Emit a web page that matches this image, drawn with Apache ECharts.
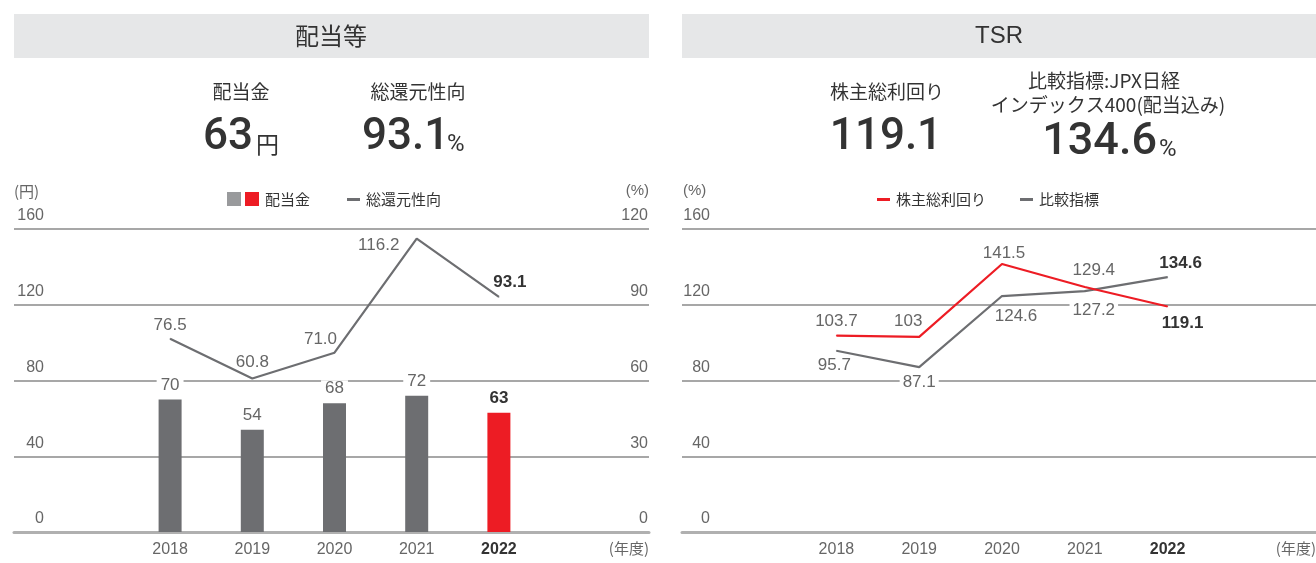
<!doctype html>
<html>
<head>
  <meta charset="utf-8">
  <title>配当等 / TSR</title>
  <script src="https://cdn.jsdelivr.net/npm/echarts@6/dist/echarts.min.js"></script>
  <style>
    html, body { margin: 0; padding: 0; background: #fff; }
    #main { width: 1316px; height: 563px; }
  </style>
</head>
<body>
  <div id="main"></div>
<script>
// data
var years = ['2018', '2019', '2020', '2021', '2022'];
var dividend = [70, 54, 68, 72, 63];            // 配当金 (円)
var payout = [76.5, 60.8, 71.0, 116.2, 93.1];   // 総還元性向 (%)
var tsr = [103.7, 103, 141.5, 129.4, 119.1];    // 株主総利回り (%)
var benchmark = [95.7, 87.1, 124.6, 127.2, 134.6]; // 比較指標 (%)
var yenTicks = [0, 160, 40];
var pctTicks = [0, 120, 30];

// label offsets (style only)
var payoutOff = [[0, 0], [0, -2], [-14, 1], [-38, 21], [11, -1]];
var tsrOff = [[0, 0], [-11, -2], [2, 3], [9, -3], [15, 3]];
var benchOff = [[-2, 1], [0, 1], [14, 6], [9, 5], [13, 0]];

var GRAY = '#6d6e71', RED = '#ed1c24', TXT = '#666', DARK = '#333';
var NUM = '"Liberation Sans", Arial, sans-serif';
var JP = '"Noto Sans CJK JP", sans-serif';
var BIG = 'Roboto, "Liberation Sans", sans-serif';

function bgX(i) {
  return { gridIndex: i, type: 'value', min: 0, max: 1, show: true,
    axisLine: { show: true, lineStyle: { color: '#b0b0b0', width: 3 } },
    axisTick: { show: false }, axisLabel: { show: false }, splitLine: { show: false } };
}
function catX(i) {
  return { gridIndex: i, type: 'category', data: years,
    axisLine: { show: false }, axisTick: { show: false },
    axisLabel: { color: TXT, fontSize: 16, fontFamily: NUM, margin: 10,
      formatter: function (v) { return v === '2022' ? '{b|' + v + '}' : v; },
      rich: { b: { fontWeight: 'bold', color: DARK, fontSize: 16, fontFamily: NUM } } } };
}
function tickY(grid, pos, t, split, margin) {
  return { gridIndex: grid, type: 'value', position: pos, min: t[0], max: t[1], interval: t[2],
    axisLine: { show: false }, axisTick: { show: false },
    axisLabel: { inside: true, align: 'right', verticalAlign: 'bottom', margin: margin,
      padding: [0, 0, 5, 0], color: TXT, fontSize: 16, fontFamily: NUM,
      showMinLabel: true, showMaxLabel: true },
    splitLine: { show: split, lineStyle: { color: '#8a8a8a', width: 1.5 } } };
}
function hideY(grid, t) {
  return { gridIndex: grid, type: 'value', min: t[0], max: t[1], interval: t[2], show: false,
    splitLine: { show: false } };
}
function lineData(vals, offs, pos, boldLast, bg) {
  return vals.map(function (v, i) {
    var last = boldLast && i === vals.length - 1;
    return { value: v, label: { position: pos[i], offset: offs[i],
      fontWeight: last ? 'bold' : 'normal', color: last ? DARK : TXT,
      backgroundColor: bg ? '#fff' : 'transparent', padding: bg ? [0, 3] : 0 } };
  });
}
function txt(x, y, s, size, opt) {
  opt = opt || {};
  return { type: 'text', x: x, y: y, silent: true, style: {
    text: s, fontSize: size, fontFamily: opt.family || JP, fontWeight: opt.weight || 'normal',
    fill: opt.color || DARK, align: opt.align || 'center', verticalAlign: 'middle' } };
}

var chart = echarts.init(document.getElementById('main'));
chart.setOption({
  animation: false,
  grid: [
    { left: 14, top: 229, width: 635, height: 303 },
    { left: 129, top: 229, width: 411, height: 303 },
    { left: 682, top: 229, width: 634, height: 303 },
    { left: 795, top: 229, width: 414, height: 303 }
  ],
  xAxis: [bgX(0), catX(1), bgX(2), catX(3)],
  yAxis: [
    tickY(0, 'left', yenTicks, true, 30),
    tickY(0, 'right', pctTicks, false, 1),
    hideY(1, yenTicks),
    hideY(1, pctTicks),
    tickY(2, 'left', yenTicks, true, 28),
    hideY(3, yenTicks)
  ],
  series: [
    { name: '配当金', type: 'bar', xAxisIndex: 1, yAxisIndex: 2, barWidth: 23,
      data: dividend.map(function (v, i) {
        var last = i === dividend.length - 1;
        return { value: v, itemStyle: { color: last ? RED : GRAY },
          label: { fontWeight: last ? 'bold' : 'normal', color: last ? DARK : TXT } };
      }),
      label: { show: true, position: 'top', distance: 6, fontSize: 17, fontFamily: NUM,
        backgroundColor: '#fff', padding: [0, 4] } },
    { name: '総還元性向', type: 'line', xAxisIndex: 1, yAxisIndex: 3, symbol: 'circle', symbolSize: 1,
      lineStyle: { color: GRAY, width: 2.2 }, itemStyle: { color: GRAY },
      data: lineData(payout, payoutOff, ['top', 'top', 'top', 'top', 'top'], true, false),
      label: { show: true, distance: 5, fontSize: 17, fontFamily: NUM,
        formatter: function (p) { return p.value.toFixed(1); } } },
    { name: '比較指標', type: 'line', xAxisIndex: 3, yAxisIndex: 5, symbol: 'circle', symbolSize: 1,
      lineStyle: { color: GRAY, width: 2.2 }, itemStyle: { color: GRAY },
      data: lineData(benchmark, benchOff, ['bottom', 'bottom', 'bottom', 'bottom', 'top'], true, true),
      label: { show: true, distance: 5, fontSize: 17, fontFamily: NUM } },
    { name: '株主総利回り', type: 'line', xAxisIndex: 3, yAxisIndex: 5, symbol: 'circle', symbolSize: 1,
      lineStyle: { color: RED, width: 2.2 }, itemStyle: { color: RED },
      data: lineData(tsr, tsrOff, ['top', 'top', 'top', 'top', 'bottom'], true, false),
      label: { show: true, distance: 5, fontSize: 17, fontFamily: NUM } }
  ],
  graphic: [
    // headers
    { type: 'rect', shape: { x: 14, y: 14, width: 635, height: 44 }, style: { fill: '#e6e7e8' }, silent: true },
    { type: 'rect', shape: { x: 682, y: 14, width: 634, height: 44 }, style: { fill: '#e6e7e8' }, silent: true },
    txt(331, 36, '配当等', 24),
    txt(999, 36, 'TSR', 24, { family: NUM }),
    // key figures left
    txt(241, 92, '配当金', 19),
    txt(253, 138, '63', 44, { family: BIG, weight: 500, align: 'right' }),
    txt(256, 144, '円', 23, { align: 'left' }),
    txt(418, 92, '総還元性向', 19),
    txt(362, 138, '93.1', 44, { family: BIG, weight: 500, align: 'left' }),
    txt(447, 145, '%', 24, { family: BIG, align: 'left' }),
    // key figures right
    txt(887, 92, '株主総利回り', 19),
    txt(886, 138, '119.1', 44, { family: BIG, weight: 500 }),
    txt(1104, 81, '比較指標:JPX日経', 19),
    txt(1108, 105, 'インデックス400(配当込み)', 19),
    txt(1157, 143, '134.6', 45, { family: BIG, weight: 500, align: 'right' }),
    txt(1159, 150, '%', 24, { family: BIG, align: 'left' }),
    // units
    txt(14, 191, '(円)', 15, { align: 'left', color: TXT }),
    txt(649, 191, '(%)', 15, { align: 'right', color: TXT, family: NUM }),
    txt(683, 191, '(%)', 15, { align: 'left', color: TXT, family: NUM }),
    txt(649, 548, '(年度)', 15, { align: 'right', color: TXT }),
    txt(1316, 548, '(年度)', 15, { align: 'right', color: TXT }),
    // legend left
    { type: 'rect', shape: { x: 227, y: 192, width: 14, height: 14 }, style: { fill: '#999a9c' }, silent: true },
    { type: 'rect', shape: { x: 245, y: 192, width: 14, height: 14 }, style: { fill: RED }, silent: true },
    txt(265, 199, '配当金', 15, { align: 'left' }),
    { type: 'rect', shape: { x: 347, y: 198, width: 13, height: 3 }, style: { fill: GRAY }, silent: true },
    txt(366, 199, '総還元性向', 15, { align: 'left' }),
    // legend right
    { type: 'rect', shape: { x: 877, y: 198, width: 13, height: 3 }, style: { fill: RED }, silent: true },
    txt(896, 199, '株主総利回り', 15, { align: 'left' }),
    { type: 'rect', shape: { x: 1020, y: 198, width: 13, height: 3 }, style: { fill: GRAY }, silent: true },
    txt(1039, 199, '比較指標', 15, { align: 'left' })
  ]
});
</script>
</body>
</html>
